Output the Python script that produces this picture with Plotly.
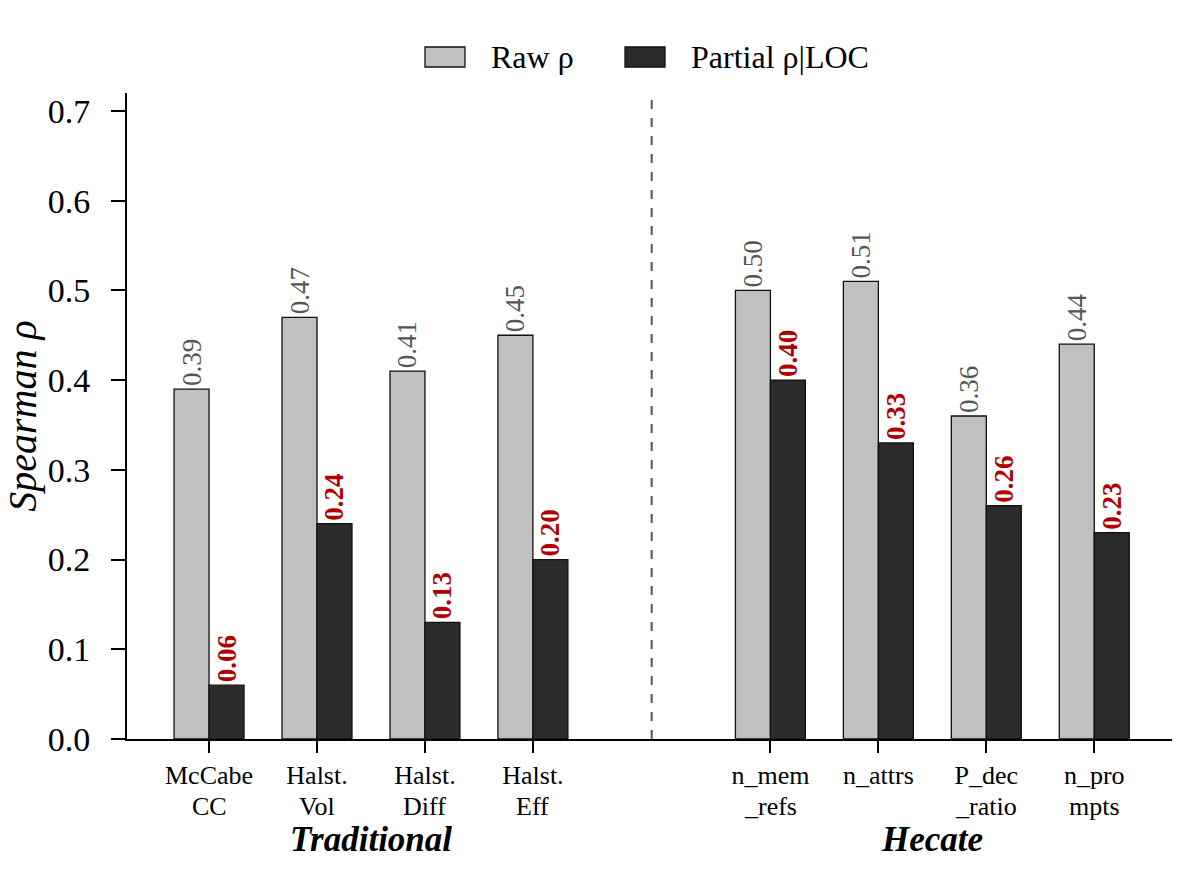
import plotly.graph_objects as go

# ---- data ----
categories = ["McCabe<br>CC", "Halst.<br>Vol", "Halst.<br>Diff", "Halst.<br>Eff",
              "n_mem<br>_refs", "n_attrs", "P_dec<br>_ratio", "n_pro<br>mpts"]
raw_rho = [0.39, 0.47, 0.41, 0.45, 0.50, 0.51, 0.36, 0.44]
partial_rho = [0.06, 0.24, 0.13, 0.20, 0.40, 0.33, 0.26, 0.23]
groups = ["Traditional", "Hecate"]
y_ticks = [0.0, 0.1, 0.2, 0.3, 0.4, 0.5, 0.6, 0.7]

# ---- layout helpers ----
GAP = 1.2
positions = [i for i in range(4)] + [3 + GAP + 1 + i for i in range(4)]
W = 0.324
FONT = "Liberation Serif"
RAW_C = "#c0c0c0"
PAR_C = "#2b2b2b"
L, R, T, B = 127, 32, 93, 147
pw, ph = 1204 - L - R, 886 - T - B

def py(pix):
    """pixel row -> paper y"""
    return (739 - pix) / ph

first_lines = [c.split("<br>")[0] for c in categories]
second_lines = [c.split("<br>")[1] if "<br>" in c else "" for c in categories]

fig = go.Figure()
fig.add_trace(go.Bar(
    x=positions, y=raw_rho, name="Raw ρ", width=W, offset=-W,
    marker=dict(color=RAW_C, line=dict(color="#111111", width=1.3)),
    texttemplate="%{y:.2f}", textposition="outside", textangle=-90,
    constraintext="none", cliponaxis=False,
    textfont=dict(family=FONT, size=27, color="#555555"),
    showlegend=False,
))
fig.add_trace(go.Bar(
    x=positions, y=partial_rho, name="Partial ρ|LOC", width=W, offset=0,
    marker=dict(color=PAR_C, line=dict(color="#111111", width=1.3)),
    texttemplate="<b>%{y:.2f}</b>", textposition="outside", textangle=-90,
    constraintext="none", cliponaxis=False,
    textfont=dict(family=FONT, size=27, color="#b00000"),
    showlegend=False,
))

sep_x = (positions[3] + positions[4]) / 2
fig.add_shape(type="line", xref="x", yref="paper", x0=sep_x, x1=sep_x, y0=0, y1=1,
              line=dict(color="#555555", width=2, dash="dash"))

# second lines of the category labels (tight line spacing)
for xp, s in zip(positions, second_lines):
    if s:
        fig.add_annotation(x=xp, y=py(806), xref="x", yref="paper", text=s,
                           showarrow=False, yanchor="middle",
                           font=dict(family=FONT, size=26, color="black"))

# group labels
for gi, (a, b) in enumerate([(0, 3), (4, 7)]):
    fig.add_annotation(x=(positions[a] + positions[b]) / 2, y=py(839), xref="x", yref="paper",
                       text="<b><i>" + groups[gi] + "</i></b>", showarrow=False,
                       font=dict(family=FONT, size=35, color="black"), yanchor="middle")

# manual legend
leg_items = [("Raw ρ", RAW_C, 425), ("Partial ρ|LOC", PAR_C, 625)]
for name, col, px in leg_items:
    x0 = (px - L) / pw
    x1 = (px + 40 - L) / pw
    yc = py(57)
    fig.add_shape(type="rect", xref="paper", yref="paper", x0=x0, x1=x1,
                  y0=yc - 10 / ph, y1=yc + 10 / ph,
                  fillcolor=col, line=dict(color="#111111", width=1.3))
    fig.add_annotation(x=(px + 64 - L) / pw, y=yc, xref="paper", yref="paper",
                       text=name, showarrow=False, xanchor="left", yanchor="middle",
                       font=dict(family=FONT, size=32, color="black"))

fig.update_layout(
    width=1204, height=886,
    margin=dict(l=L, r=R, t=T, b=B),
    plot_bgcolor="white", paper_bgcolor="white",
    font=dict(family=FONT, color="black"),
    barmode="overlay",
    xaxis=dict(range=[-0.76, 8.92], tickmode="array", tickvals=positions, ticktext=first_lines,
               showline=True, linecolor="black", linewidth=2, ticks="outside", ticklen=12,
               tickwidth=1.5, tickcolor="black", showgrid=False, zeroline=False,
               ticklabelstandoff=0,
               tickfont=dict(family=FONT, size=26, color="black")),
    yaxis=dict(range=[0, 0.72], tickmode="array", tickvals=y_ticks,
               ticktext=[f"{v:.1f}" for v in y_ticks],
               showline=True, linecolor="black", linewidth=2, ticks="outside", ticklen=14,
               tickwidth=1.5, tickcolor="black", showgrid=False, zeroline=False,
               ticklabelstandoff=14,
               tickfont=dict(family=FONT, size=34, color="black"),
               title=dict(text="<i>Spearman ρ</i>", font=dict(family=FONT, size=40, color="black"),
                          standoff=4)),
)

fig.write_html("out.html")
